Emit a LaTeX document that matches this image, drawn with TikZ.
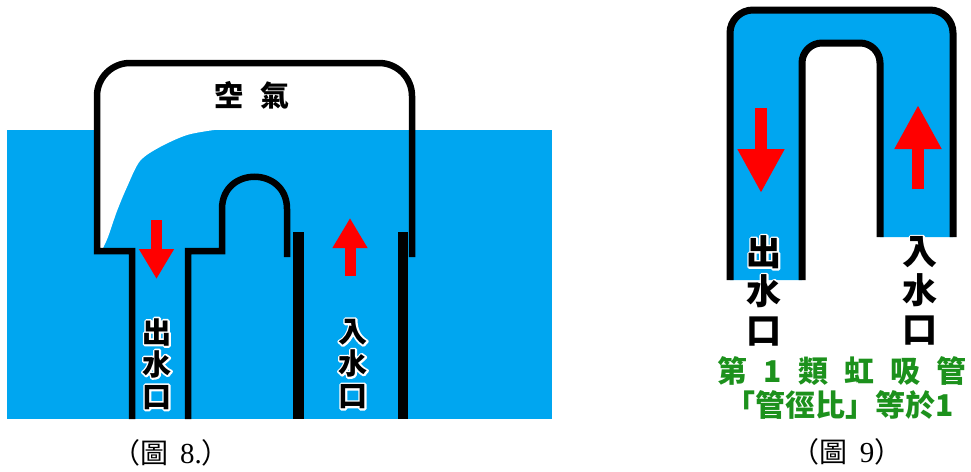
\documentclass[tikz,border=0pt]{standalone}
\usepackage{fontspec}
\newfontfamily\cjk{Noto Sans CJK TC}
\newfontfamily\capfont{Liberation Serif}
\usetikzlibrary{arrows.meta}

\definecolor{water}{RGB}{0,166,240}
\definecolor{notegreen}{RGB}{28,145,28}

% white rim round a character standing on the water (stroked copy below)
\newcommand\halo[1]{%
  \leavevmode
  \rlap{\special{pdf:code q 1 Tr 3.6 w 1 j 1 1 1 RG}#1\special{pdf:code Q}}%
  #1}

\begin{document}
\begin{tikzpicture}[x=1pt,y=-1pt,
    wall/.style={line width=6.5pt},
    flow/.style={draw=red,line width=11pt,-{Triangle[width=33pt,length=30pt]}},
    flowbig/.style={draw=red,line width=12pt,-{Triangle[width=44pt,length=44pt]}},
    tag/.style={font=\cjk\bfseries\fontsize{29}{32}\selectfont,align=center},
    tagbig/.style={font=\cjk\bfseries\fontsize{35}{39}\selectfont,align=center},
    note/.style={font=\cjk\bfseries\fontsize{30}{32}\selectfont,text=notegreen},
    capt/.style={font={\cjk\fontsize{28}{30}\selectfont\spaceskip 12pt}}]
  \useasboundingbox (0,0) rectangle (971,471);

  % --- tank with the air pocket ---
  \fill[water] (7,130) rectangle (552,419);
  \fill[white] (100,130) -- plot[smooth] coordinates {(214,130) (187,135) (160,147)
      (140,161) (127,187) (117,211) (108,237) (103,248)} -- (100,248) -- cycle;

  \draw[wall] (132,419) -- (132,251) -- (97,251) -- (97,130)
      [rounded corners=33pt] -- (97,63) -- (412,63) -- (412,130)
      [sharp corners] -- (412,257);
  \draw[wall] (188,419) -- (188,251) -- (222,251) -- (222,209)
      .. controls (222,166) and (287,166) .. (287,209) -- (287,257);
  \draw[line width=11pt] (298,232) -- (298,419);
  \draw[line width=10pt] (403,232) -- (403,419);

  \draw[flow] (156.5,220) -- (156.5,279);
  \draw[flow] (350,276) -- (350,218);

  \node[tag] (air) at (252,95) {\spaceskip 18pt 空 氣};
  \node[tag] (out8) at (157,364) {\halo{出}\\\halo{水}\\\halo{口}};
  \node[tag] (in8) at (353,364) {\halo{入}\\\halo{水}\\\halo{口}};
  \node[capt] (cap8) at (171,453)
      {（圖 {\capfont\fontsize{29}{30}\selectfont 8.}）};

  % --- U tube full of water ---
  \fill[water] (730,280) -- (730,130) [rounded corners=23pt] -- (730,10)
      -- (953,10) -- (953,130) [sharp corners] -- (953,237) -- (880,237)
      -- (880,120) [rounded corners=20pt] -- (880,43) -- (802,43)
      -- (802,120) [sharp corners] -- (802,280) -- cycle;
  \draw[wall,line width=7pt] (730,280) -- (730,130) [rounded corners=23pt]
      -- (730,10) -- (953,10) -- (953,130) [sharp corners] -- (953,237);
  \draw[wall,line width=7pt] (802,280) -- (802,120) [rounded corners=20pt]
      -- (802,43) -- (880,43) -- (880,120) [sharp corners] -- (880,237);

  \draw[flowbig] (761,108) -- (761,193);
  \draw[flowbig] (918,189) -- (918,105);

  \node[tagbig] (out9) at (764,291) {\halo{出}\\\halo{水}\\\halo{口}};
  \node[tagbig] (in9) at (920,291) {\halo{入}\\\halo{水}\\\halo{口}};
  \node[note] (kind9) at (842,371) {\spaceskip 16pt 第 1 類 虹 吸 管};
  \node[note] (ratio9) at (840,405) {「管徑比」等於1};
  \node[capt] (cap9) at (847,452)
      {（圖 {\capfont\fontsize{29}{30}\selectfont 9}）};
\end{tikzpicture}
\end{document}
